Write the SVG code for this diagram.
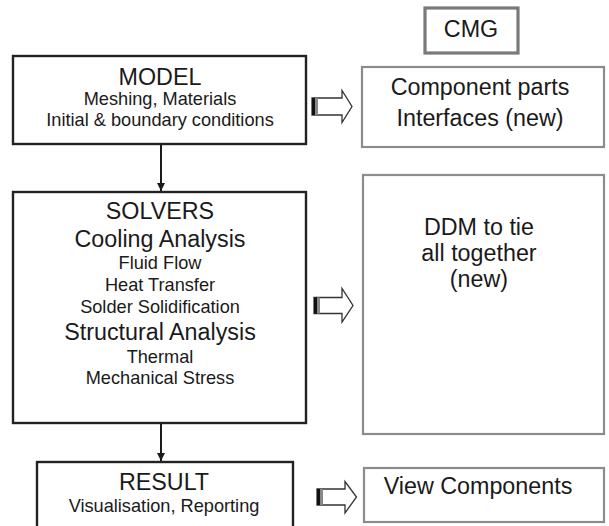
<svg xmlns="http://www.w3.org/2000/svg" width="609" height="526" viewBox="0 0 609 526">
<style>
.bg{fill:#ffffff}
.lbox{fill:#ffffff;stroke:#222222;stroke-width:2.4}
.rbox{fill:#ffffff;stroke:#8c8c8c;stroke-width:2.2}
.cmg{fill:#ffffff;stroke:#7a7a7a;stroke-width:3.2}
text{font-family:"Liberation Sans",Arial,Helvetica,sans-serif;fill:#1a1a1a;text-anchor:middle}
.big{font-size:23.3px}
.small{font-size:18.2px}
.conn{stroke:#1a1a1a;stroke-width:2;fill:none}
.barrow{fill:#ffffff;stroke:#333333;stroke-width:1.3;stroke-linejoin:miter}
.band1{fill:#111111}
.band2{fill:#888888}
</style>
<defs>
<marker id="ah" viewBox="0 0 10 10" refX="10" refY="5" markerWidth="8" markerHeight="10" markerUnits="userSpaceOnUse" orient="auto">
<path d="M0,0 L10,5 L0,10 z" fill="#1a1a1a"/>
</marker>
</defs>
<rect class="bg" x="0" y="0" width="609" height="526"/>

<g id="connectors">
<line class="conn" x1="161" y1="145" x2="161" y2="191" marker-end="url(#ah)"/>
<line class="conn" x1="161" y1="424" x2="161" y2="461" marker-end="url(#ah)"/>
<g id="arrow1">
<path class="barrow" d="M312,98 L342,98 L342,90.5 L352,106.5 L342,122.5 L342,115 L312,115 Z"/>
<rect class="band1" x="312" y="98" width="3" height="17"/>
<rect class="band2" x="315" y="98" width="3" height="17"/>
</g>
<g id="arrow2">
<path class="barrow" d="M314,297.5 L342,297.5 L342,288.5 L353,305.5 L342,322 L342,313.5 L314,313.5 Z"/>
<rect class="band1" x="314" y="297.5" width="3" height="16"/>
<rect class="band2" x="317" y="297.5" width="3" height="16"/>
</g>
<g id="arrow3">
<path class="barrow" d="M317,489 L345,489 L345,481.5 L356.5,497 L345,513 L345,505 L317,505 Z"/>
<rect class="band1" x="317" y="489" width="3" height="16"/>
<rect class="band2" x="320" y="489" width="3" height="16"/>
</g>
</g>

<g id="cmg">
<rect class="cmg" x="425" y="8" width="93" height="45"/>
<text class="big" x="471" y="37">CMG</text>
</g>

<g id="model">
<rect class="lbox" x="13" y="56" width="293" height="88"/>
<text class="big" x="160" y="85">MODEL</text>
<text class="small" x="160" y="105">Meshing, Materials</text>
<text class="small" x="160" y="126">Initial &amp; boundary conditions</text>
</g>

<g id="solvers">
<rect class="lbox" x="13" y="192" width="293" height="231"/>
<text class="big" x="160" y="219">SOLVERS</text>
<text class="big" x="160" y="247">Cooling Analysis</text>
<text class="small" x="160" y="269">Fluid Flow</text>
<text class="small" x="160" y="291">Heat Transfer</text>
<text class="small" x="160" y="313">Solder Solidification</text>
<text class="big" x="160" y="340">Structural Analysis</text>
<text class="small" x="160" y="363">Thermal</text>
<text class="small" x="160" y="384">Mechanical Stress</text>
</g>

<g id="result">
<rect class="lbox" x="37" y="462" width="256" height="80"/>
<text class="big" x="164" y="490">RESULT</text>
<text class="small" x="164" y="512">Visualisation, Reporting</text>
</g>

<g id="component">
<rect class="rbox" x="362" y="67" width="242" height="80"/>
<text class="big" x="480" y="95">Component parts</text>
<text class="big" x="480" y="126">Interfaces (new)</text>
</g>

<g id="ddm">
<rect class="rbox" x="363" y="175" width="241" height="259"/>
<text class="big" x="479" y="235">DDM to tie</text>
<text class="big" x="479" y="261">all together</text>
<text class="big" x="479" y="287">(new)</text>
</g>

<g id="view">
<rect class="rbox" x="364" y="468" width="240" height="54"/>
<text class="big" x="478" y="494">View Components</text>
</g>
</svg>
